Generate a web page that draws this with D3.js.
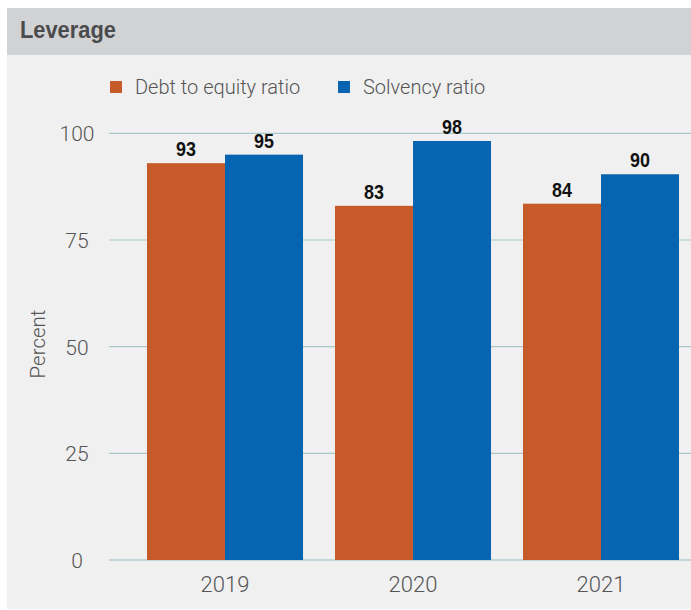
<!DOCTYPE html>
<html>
<head>
<meta charset="utf-8">
<script src="https://cdn.jsdelivr.net/npm/d3@7"></script>
<style>
  html, body { margin: 0; padding: 0; background: #ffffff; }
  svg { display: block; }
</style>
</head>
<body>
<div id="chart"></div>
<script>
// ---------------------------------------------
// DATA
// ---------------------------------------------
const years = ["2019", "2020", "2021"];
const seriesNames = ["Debt to equity ratio", "Solvency ratio"];
const debtToEquity = [93, 83, 83.5];
const solvency = [95, 98.2, 90.4];
const yTicks = [0, 25, 50, 75, 100];

const colors = ["#c65a28", "#0664b0"];

const width = 691;
const height = 610;

const svg = d3.select("#chart")
    .append("svg")
    .attr("width", width)
    .attr("height", height);

const boldFont = "'Liberation Sans', Arial, sans-serif";
const light = "Roboto, 'Liberation Sans', sans-serif";

// panel + header
svg.append("rect")
    .attr("x", 7).attr("y", 8)
    .attr("width", width - 7).attr("height", 601)
    .attr("fill", "#f0f0f0");

svg.append("rect")
    .attr("x", 7).attr("y", 8)
    .attr("width", width - 7).attr("height", 47)
    .attr("fill", "#d1d2d4");

// condensed-looking title: bold face squeezed horizontally
svg.append("text")
    .attr("transform", "translate(20,37.7) scale(0.91,1)")
    .style("font-family", boldFont)
    .style("font-weight", "bold")
    .style("font-size", "24px")
    .style("fill", "#4b4b4d")
    .text("Leverage");

// ---------------------------------------------
// SCALES
// ---------------------------------------------
const y = d3.scaleLinear().domain([0, 100]).range([560, 133.3]);

const x0 = d3.scaleBand()
    .domain(years)
    .range([131, 695])
    .paddingInner(0.17)
    .paddingOuter(0.085);

const x1 = d3.scaleBand()
    .domain(seriesNames)
    .range([0, x0.bandwidth()]);

// gridlines
svg.append("g")
    .selectAll("line")
    .data(yTicks)
    .join("line")
    .attr("x1", 109).attr("x2", width)
    .attr("y1", d => y(d)).attr("y2", d => y(d))
    .attr("stroke", d => d === 0 ? "#8fbfc3" : "#aac8cb")
    .attr("stroke-width", 1.2);

// y tick labels
svg.append("g")
    .selectAll("text")
    .data(yTicks)
    .join("text")
    .attr("x", 77)
    .attr("y", d => y(d) + 8)
    .attr("text-anchor", "middle")
    .style("font-family", light)
    .style("font-weight", 300)
    .style("font-size", "21px")
    .style("fill", "#555")
    .text(d => d);

// y axis title
svg.append("text")
    .attr("transform", "translate(45,344) rotate(-90)")
    .attr("text-anchor", "middle")
    .style("font-family", light)
    .style("font-weight", 300)
    .style("font-size", "20.5px")
    .style("fill", "#555")
    .text("Percent");

// ---------------------------------------------
// BARS
// ---------------------------------------------
const rows = years.map((yr, i) => ({
    year: yr,
    values: [debtToEquity[i], solvency[i]]
}));

const groups = svg.append("g")
    .selectAll("g")
    .data(rows)
    .join("g")
    .attr("transform", d => `translate(${x0(d.year)},0)`);

groups.selectAll("rect")
    .data(d => d.values.map((v, j) => ({ key: seriesNames[j], v, j })))
    .join("rect")
    .attr("x", d => x1(d.key))
    .attr("y", d => y(d.v))
    .attr("width", x1.bandwidth())
    .attr("height", d => y(0) - y(d.v))
    .attr("fill", d => colors[d.j]);

groups.selectAll("text")
    .data(d => d.values.map((v, j) => ({ key: seriesNames[j], v, j })))
    .join("text")
    .attr("transform", d => `translate(${x1(d.key) + x1.bandwidth() / 2},${y(d.v) - 7}) scale(0.92,1)`)
    .attr("text-anchor", "middle")
    .style("font-family", boldFont)
    .style("font-weight", "bold")
    .style("font-size", "19.5px")
    .style("fill", "#111")
    .text(d => Math.round(d.v));

// x labels
svg.append("g")
    .selectAll("text")
    .data(years)
    .join("text")
    .attr("x", d => x0(d) + x0.bandwidth() / 2)
    .attr("y", 592)
    .attr("text-anchor", "middle")
    .style("font-family", light)
    .style("font-weight", 300)
    .style("font-size", "22px")
    .style("fill", "#555")
    .text(d => d);

// ---------------------------------------------
// LEGEND
// ---------------------------------------------
const legendX = [110, 338];
const legend = svg.append("g")
    .selectAll("g")
    .data(seriesNames)
    .join("g")
    .attr("transform", (d, i) => `translate(${legendX[i]},81)`);

legend.append("rect")
    .attr("width", 12).attr("height", 12)
    .attr("fill", (d, i) => colors[i]);

legend.append("text")
    .attr("x", 25).attr("y", 13)
    .style("font-family", light)
    .style("font-weight", 300)
    .style("font-size", "20px")
    .style("fill", "#555")
    .text(d => d);
</script>
</body>
</html>
